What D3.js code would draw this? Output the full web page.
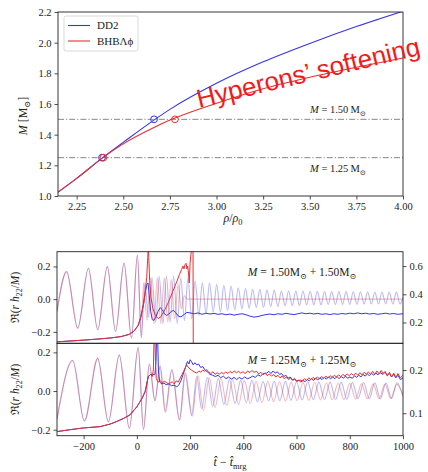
<!DOCTYPE html>
<html><head><meta charset="utf-8">
<script src="https://cdn.jsdelivr.net/npm/d3@7"></script>
<style>
body{margin:0;background:#fff}
svg{display:block}
text{font-family:"Liberation Serif","DejaVu Serif",serif;fill:#222}
</style>
</head><body>
<svg id="chart" width="428" height="472"></svg>
<script>
// ---------- Mass vs. central density ----------
const rho     = [2.15, 2.25, 2.39, 2.50, 2.67, 2.75, 3.00, 3.25, 3.50, 3.75, 4.00];
const massDD2 = [1.025, 1.115, 1.25, 1.35, 1.50, 1.565, 1.735, 1.875, 1.995, 2.105, 2.205];
const massBHB = [1.025, 1.115, 1.25, 1.34, 1.45, 1.495, 1.605, 1.70, 1.775, 1.84, 1.90];
const markDD2 = [[2.386, 1.25], [2.665, 1.50]];
const markBHB = [[2.393, 1.25], [2.777, 1.50]];
const refMasses = [1.50, 1.25];
const rhoTicks = [2.25, 2.50, 2.75, 3.00, 3.25, 3.50, 3.75, 4.00];
const massTicks = [1.0, 1.2, 1.4, 1.6, 1.8, 2.0, 2.2];

// ---------- Waveforms, 1.50 + 1.50 ----------
// strain extrema [t, Re(r h22/M)]
const hInsp150 = [[-300,-0.075],[-264,0.168],[-222,-0.177],[-182,0.189],[-147,-0.187],[-111,0.199],[-80,-0.197],[-48,0.22],[-20,-0.238],[2,0.27],[17,-0.236]];
const hDD2_150 = [[30,0.10],[44,-0.11],[57,0.13],[71,-0.14],[84,0.14],[98,-0.15],[111,0.14],[125,-0.14],[138,0.14],[152,-0.15],[165,0.13],[179,-0.13],[192,0.13],[206,-0.12],[219,0.11],[233,-0.10],[246,0.10],[260,-0.09],[273,0.10],[287,-0.08],[300,0.09],[314,-0.08],[327,0.085],[341,-0.07],[354,0.08],[368,-0.065],[381,0.07],[395,-0.06],[408,0.065],[422,-0.055],[435,0.06],[449,-0.05],[462,0.06],[476,-0.05],[489,0.055],[503,-0.045],[516,0.055],[530,-0.045],[543,0.05],[557,-0.04],[570,0.05],[584,-0.04],[597,0.05],[611,-0.04],[624,0.05],[638,-0.035],[651,0.048],[665,-0.035],[678,0.048],[692,-0.035],[705,0.047],[719,-0.033],[732,0.047],[746,-0.033],[759,0.046],[773,-0.032],[786,0.046],[800,-0.032],[813,0.045],[827,-0.032],[840,0.045],[854,-0.03],[867,0.045],[881,-0.03],[894,0.044],[908,-0.03],[921,0.044],[935,-0.03],[948,0.044],[962,-0.03],[975,0.043],[989,-0.03],[1000,0.01]];
const hBHB_150 = [[25,0.10],[38,-0.13],[51,0.13],[64,-0.15],[77,0.13],[90,-0.15],[103,0.13],[116,-0.14],[129,0.12],[142,-0.12],[155,0.09],[167,-0.06],[178,0.02],[190,0.0],[1000,0.0]];
// maximum density [t, value on right axis]
const dPre150 = [[-300,0.063],[-250,0.069],[-200,0.075],[-150,0.082],[-100,0.09],[-60,0.10],[-30,0.115],[-10,0.14],[5,0.18],[15,0.24],[25,0.33],[32,0.42]];
const dBHB_150 = [[37,0.52],[41,0.66],[43,0.75],[45,0.66],[48,0.50],[53,0.38],[60,0.30],[70,0.25],[80,0.228],[90,0.24],[105,0.29],[120,0.35],[135,0.42],[150,0.49],[160,0.54],[168,0.575],[173,0.60],[177,0.58],[181,0.61],[185,0.62],[188,0.58],[191,0.60],[194,0.55],[197,0.48],[200,0.62],[203,0.68],[207,0.75],[211,0.75],[212,0.0]];
const dDD2_150 = [[38,0.47],[42,0.48],[46,0.40],[52,0.28],[58,0.22],[64,0.215],[72,0.24],[80,0.28],[88,0.305],[96,0.29],[104,0.26],[112,0.25],[120,0.26],[130,0.28],[138,0.285],[146,0.27],[156,0.245],[166,0.24],[176,0.255],[188,0.272],[200,0.268],[215,0.262],[230,0.268],[245,0.258],[260,0.266],[275,0.26],[290,0.265],[305,0.258],[320,0.262],[335,0.255],[350,0.26],[365,0.252],[380,0.258],[395,0.262],[410,0.255],[425,0.245],[440,0.238],[455,0.242],[470,0.25],[485,0.256],[500,0.26],[515,0.255],[530,0.262],[545,0.258],[560,0.265],[575,0.26],[590,0.256],[605,0.262],[620,0.268],[635,0.262],[650,0.266],[665,0.26],[680,0.265],[695,0.258],[710,0.262],[725,0.256],[740,0.262],[755,0.258],[770,0.264],[785,0.26],[800,0.266],[815,0.262],[830,0.268],[845,0.262],[860,0.266],[875,0.26],[890,0.264],[905,0.258],[920,0.262],[935,0.266],[950,0.26],[965,0.264],[980,0.258],[1000,0.262]];

// ---------- Waveforms, 1.25 + 1.25 ----------
const hInsp125 = [[-300,-0.145],[-241,0.158],[-197,-0.155],[-147,0.169],[-107,-0.159],[-66,0.186],[-28,-0.193],[5,0.226],[25,-0.2]];
const hDD2_125 = [[47,0.14],[68,-0.05],[87,0.125],[106,-0.105],[131,0.11],[160,-0.15],[181,0.09],[206,-0.125],[225,0.075],[243,-0.09],[265,0.07],[285,-0.08],[306,0.065],[327,-0.07],[348,0.06],[369,-0.065],[390,0.055],[411,-0.06],[432,0.055],[453,-0.055],[474,0.05],[495,-0.05],[516,0.05],[537,-0.05],[558,0.05],[579,-0.048],[600,0.048],[621,-0.046],[642,0.048],[663,-0.045],[684,0.046],[705,-0.044],[726,0.046],[747,-0.043],[768,0.045],[789,-0.042],[810,0.045],[831,-0.04],[852,0.044],[873,-0.04],[894,0.043],[915,-0.04],[936,0.042],[957,-0.038],[978,0.042],[1000,-0.03]];
const hBHB_125 = [[47,0.14],[68,-0.05],[88,0.13],[108,-0.11],[132,0.11],[161,-0.15],[183,0.095],[208,-0.13],[229,0.08],[250,-0.10],[272,0.07],[294,-0.085],[316,0.065],[338,-0.075],[360,0.06],[382,-0.07],[404,0.055],[426,-0.065],[448,0.05],[470,-0.06],[492,0.05],[514,-0.055],[536,0.048],[558,-0.052],[580,0.046],[602,-0.05],[624,0.045],[646,-0.048],[668,0.044],[690,-0.046],[712,0.042],[734,-0.045],[756,0.04],[778,-0.044],[800,0.04],[822,-0.042],[844,0.038],[866,-0.04],[888,0.037],[910,-0.04],[932,0.036],[954,-0.038],[976,0.035],[1000,-0.02]];
const dPre125 = [[-300,0.0575],[-250,0.062],[-200,0.066],[-138,0.069],[-100,0.075],[-75,0.081],[-50,0.088],[-26,0.096],[0,0.115],[20,0.135],[31,0.15],[43,0.185],[52,0.19]];
const dBHB_125 = [[58,0.185],[62,0.20],[65,0.28],[67,0.30],[70,0.22],[73,0.18],[80,0.172],[88,0.176],[95,0.17],[103,0.174],[110,0.172],[118,0.168],[125,0.17],[133,0.173],[140,0.168],[148,0.175],[155,0.172],[162,0.18],[170,0.19],[178,0.2],[187,0.212],[195,0.205],[205,0.2],[215,0.196],[225,0.193],[233,0.198],[240,0.195],[248,0.2],[255,0.197],[262,0.201],[270,0.195],[278,0.192],[286,0.196],[294,0.19],[302,0.194],[310,0.19],[318,0.195],[326,0.191],[334,0.196],[342,0.192],[350,0.197],[358,0.193],[366,0.198],[374,0.194],[382,0.197],[390,0.193],[399,0.196],[408,0.192],[416,0.198],[424,0.194],[432,0.199],[440,0.195],[450,0.197],[458,0.191],[466,0.195],[474,0.189],[482,0.193],[490,0.187],[498,0.191],[506,0.186],[514,0.19],[522,0.184],[530,0.188],[538,0.182],[546,0.186],[554,0.18],[562,0.184],[570,0.178],[578,0.182],[586,0.176],[594,0.18],[602,0.174],[613,0.177],[622,0.175],[630,0.18],[638,0.176],[646,0.182],[654,0.178],[662,0.183],[670,0.179],[678,0.184],[686,0.18],[694,0.185],[702,0.181],[710,0.186],[718,0.182],[726,0.187],[734,0.183],[742,0.188],[750,0.184],[758,0.189],[766,0.185],[774,0.19],[782,0.186],[790,0.191],[798,0.187],[806,0.192],[814,0.188],[822,0.193],[830,0.188],[838,0.194],[846,0.189],[854,0.195],[862,0.19],[870,0.196],[878,0.19],[886,0.197],[894,0.19],[902,0.198],[910,0.191],[918,0.199],[925,0.192],[933,0.197],[941,0.186],[949,0.195],[957,0.184],[965,0.193],[973,0.183],[981,0.192],[990,0.182],[1000,0.188]];
const dDD2_125 = [[60,0.19],[68,0.19],[72,0.22],[75,0.30],[78,0.28],[81,0.20],[86,0.172],[94,0.168],[102,0.17],[110,0.166],[120,0.168],[130,0.164],[140,0.165],[150,0.161],[158,0.166],[166,0.176],[174,0.19],[182,0.205],[190,0.22],[196,0.214],[200,0.224],[206,0.219],[212,0.212],[218,0.217],[225,0.212],[232,0.214],[240,0.206],[248,0.208],[256,0.2],[265,0.196],[275,0.19],[285,0.188],[295,0.185],[305,0.188],[315,0.182],[325,0.186],[335,0.18],[345,0.184],[355,0.179],[365,0.183],[375,0.178],[385,0.183],[395,0.179],[405,0.184],[415,0.18],[425,0.182],[435,0.186],[445,0.183],[455,0.189],[465,0.186],[475,0.192],[488,0.193],[496,0.197],[504,0.192],[512,0.198],[520,0.193],[528,0.196],[536,0.19],[544,0.192],[552,0.185],[560,0.188],[568,0.181],[576,0.184],[584,0.177],[592,0.18],[600,0.174],[608,0.177],[616,0.172],[624,0.176],[632,0.173],[640,0.178],[648,0.175],[656,0.18],[664,0.176],[672,0.181],[680,0.177],[688,0.182],[696,0.178],[704,0.183],[712,0.179],[720,0.184],[728,0.18],[736,0.184],[744,0.18],[752,0.185],[760,0.18],[768,0.185],[776,0.181],[784,0.186],[792,0.181],[800,0.184],[810,0.181],[818,0.187],[826,0.183],[834,0.188],[842,0.184],[850,0.19],[858,0.186],[866,0.191],[874,0.187],[882,0.192],[890,0.188],[898,0.193],[906,0.189],[914,0.194],[925,0.19],[933,0.195],[941,0.188],[949,0.192],[957,0.184],[965,0.19],[973,0.182],[981,0.188],[990,0.178],[1000,0.182]];

const tTicks = [-200, 0, 200, 400, 600, 800, 1000];
const hTicks = [-0.2, 0.0, 0.2];
const rTicks150 = [0.2, 0.4, 0.6];
const rTicks125 = [0.1, 0.2];

// ---------- styling ----------
const C = {blue:"#3535e6", red:"#e63030", grey:"#7a7a7a", axis:"#222"};
const SERIF = '"Liberation Serif","DejaVu Serif",serif';
const svg = d3.select("#chart");
const defs = svg.append("defs");

function clip(id, x0, y0, x1, y1) {
  defs.append("clipPath").attr("id", id).append("rect")
    .attr("x", x0).attr("y", y0).attr("width", x1 - x0).attr("height", y1 - y0);
  return `url(#${id})`;
}
function styleAxis(sel, fs) {
  sel.attr("font-family", SERIF);
  sel.select(".domain").remove();
  sel.selectAll(".tick line").attr("stroke", C.axis).attr("stroke-width", 0.8);
  sel.selectAll(".tick text").attr("fill", C.axis).style("font-size", fs + "px").style("font-family", SERIF);
}
function frame(x0, y0, x1, y1) {
  svg.append("rect").attr("x", x0).attr("y", y0).attr("width", x1 - x0).attr("height", y1 - y0)
    .attr("fill", "none").attr("stroke", C.axis).attr("stroke-width", 0.9);
}
// text built from pieces: plain strings or {t, it, sub, after}
function rich(sel, parts, fs) {
  parts.forEach(p => {
    const s = typeof p === "string" ? {t: p} : p;
    const ts = sel.append("tspan").text(s.t);
    if (s.it) ts.style("font-style", "italic");
    if (s.sub) ts.attr("dy", fs * 0.28).style("font-size", (fs * 0.7) + "px");
    if (s.after) ts.attr("dy", -fs * 0.28);
  });
  return sel;
}

// ================= Top panel =================
const T = {x0: 58, x1: 403, y0: 12, y1: 196};
const xR = d3.scaleLinear().domain([2.15, 4.0]).range([T.x0, T.x1]);
const yM = d3.scaleLinear().domain([1.0, 2.2]).range([T.y1, T.y0]);
const clipTop = clip("clipTop", T.x0, T.y0, T.x1, T.y1);

svg.append("g").attr("transform", `translate(0,${T.y1})`)
  .call(d3.axisBottom(xR).tickValues(rhoTicks).tickFormat(d3.format(".2f")).tickSize(3.5).tickPadding(3))
  .call(g => styleAxis(g, 10.5));
svg.append("g").attr("transform", `translate(${T.x0},0)`)
  .call(d3.axisLeft(yM).tickValues(massTicks).tickFormat(d3.format(".1f")).tickSize(3.5).tickPadding(3))
  .call(g => styleAxis(g, 10.5));

const gTop = svg.append("g").attr("clip-path", clipTop);
refMasses.forEach(m => gTop.append("line")
  .attr("x1", T.x0).attr("x2", T.x1).attr("y1", yM(m)).attr("y2", yM(m))
  .attr("stroke", C.grey).attr("stroke-width", 0.9).attr("stroke-dasharray", "6,2,1.2,2"));

const lineTop = d3.line().x(d => xR(d[0])).y(d => yM(d[1])).curve(d3.curveMonotoneX);
gTop.append("path").datum(d3.zip(rho, massDD2)).attr("d", lineTop)
  .attr("fill", "none").attr("stroke", C.blue).attr("stroke-width", 1.1);
gTop.append("path").datum(d3.zip(rho, massBHB)).attr("d", lineTop)
  .attr("fill", "none").attr("stroke", C.red).attr("stroke-width", 1.1);
gTop.selectAll(".mD").data(markDD2).join("circle")
  .attr("cx", d => xR(d[0])).attr("cy", d => yM(d[1])).attr("r", 3.4)
  .attr("fill", "none").attr("stroke", C.blue).attr("stroke-width", 1);
gTop.selectAll(".mB").data(markBHB).join("circle")
  .attr("cx", d => xR(d[0])).attr("cy", d => yM(d[1])).attr("r", 3.4)
  .attr("fill", "none").attr("stroke", C.red).attr("stroke-width", 1);
frame(T.x0, T.y0, T.x1, T.y1);

// reference-mass labels
[[1.50, -6.5], [1.25, 14.5]].forEach(([m, dy]) => {
  rich(svg.append("text").attr("x", 310).attr("y", yM(m) + dy).style("font-size", "10.5px"),
    [{t: "M", it: true}, " = " + m.toFixed(2) + "\u2009M", {t: "\u2299", sub: true}], 10.5);
});

// legend
const lg = svg.append("g");
lg.append("rect").attr("x", 64).attr("y", 16).attr("width", 74).attr("height", 35).attr("rx", 2)
  .attr("fill", "#fff").attr("stroke", "#d0d0d0").attr("stroke-width", 0.8);
[["DD2", C.blue, 25.5], ["BHB\u039B\u03D5", C.red, 41]].forEach(([lab, col, y]) => {
  lg.append("line").attr("x1", 68).attr("x2", 90).attr("y1", y).attr("y2", y)
    .attr("stroke", col).attr("stroke-width", 1.1);
  lg.append("text").attr("x", 97).attr("y", y + 3.8).style("font-size", "11px").text(lab);
});

// axis titles
rich(svg.append("text").attr("transform", `translate(27,${(T.y0 + T.y1) / 2 + 12}) rotate(-90)`)
  .attr("text-anchor", "middle").style("font-size", "12px"),
  [{t: "M", it: true}, " [M", {t: "\u2299", sub: true}, {t: "]", after: true}], 12);
rich(svg.append("text").attr("x", 233).attr("y", 222).attr("text-anchor", "middle").style("font-size", "12px"),
  [{t: "\u03C1", it: true}, "/", {t: "\u03C1", it: true}, {t: "0", sub: true}], 12);

// headline annotation
svg.append("text").attr("transform", "translate(199,108) rotate(-13.5)")
  .style("font-family", '"Liberation Sans",Arial,sans-serif').style("font-size", "26px")
  .style("fill", "#f01c1c").text("Hyperons\u2019 softening");

// ================= Waveform panels =================
const xT = d3.scaleLinear().domain([-300, 1000]).range([57, 403]);
const panels = [
  {y0: 251.7, y1: 343.3, hDom: [-0.27, 0.29], rDom: [0.0525, 0.702], rTicks: rTicks150,
   hDD2: hInsp150.concat(hDD2_150), hBHB: hInsp150.concat(hBHB_150),
   dDD2: dPre150.concat(dDD2_150), dBHB: dPre150.concat(dBHB_150),
   label: "1.50", labY: 276},
  {y0: 343.3, y1: 435.7, hDom: [-0.231, 0.247], rDom: [0.048, 0.262], rTicks: rTicks125,
   hDD2: hInsp125.concat(hDD2_125), hBHB: hInsp125.concat(hBHB_125),
   dDD2: dPre125.concat(dDD2_125), dBHB: dPre125.concat(dBHB_125),
   label: "1.25", labY: 364}
];

panels.forEach((P, i) => {
  const yH = d3.scaleLinear().domain(P.hDom).range([P.y1, P.y0]);
  const yD = d3.scaleLinear().domain(P.rDom).range([P.y1, P.y0]);
  const cp = clip("clipW" + i, 57, P.y0, 403, P.y1);
  const g = svg.append("g").attr("clip-path", cp);

  const lh = d3.line().x(d => xT(d[0])).y(d => yH(d[1])).curve(d3.curveMonotoneX);
  const ld = d3.line().x(d => xT(d[0])).y(d => yD(d[1]));

  g.append("path").datum(P.hDD2).attr("d", lh).attr("fill", "none")
    .attr("stroke", C.blue).attr("stroke-opacity", 0.35).attr("stroke-width", 1.1);
  g.append("path").datum(P.hBHB).attr("d", lh).attr("fill", "none")
    .attr("stroke", C.red).attr("stroke-opacity", 0.35).attr("stroke-width", 1.1);
  g.append("path").datum(P.dDD2).attr("d", ld).attr("fill", "none")
    .attr("stroke", C.blue).attr("stroke-width", 1);
  g.append("path").datum(P.dBHB).attr("d", ld).attr("fill", "none")
    .attr("stroke", C.red).attr("stroke-width", 1);

  svg.append("g").attr("transform", "translate(57,0)")
    .call(d3.axisLeft(yH).tickValues(hTicks).tickFormat(d3.format(".1f")).tickSize(3.5).tickPadding(3))
    .call(a => styleAxis(a, 10.5));
  svg.append("g").attr("transform", "translate(403,0)")
    .call(d3.axisRight(yD).tickValues(P.rTicks).tickFormat(d3.format(".1f")).tickSize(3.5).tickPadding(3))
    .call(a => styleAxis(a, 10.5));
  frame(57, P.y0, 403, P.y1);

  rich(svg.append("text").attr("x", 302).attr("y", P.labY).attr("text-anchor", "middle").style("font-size", "11.5px"),
    [{t: "M", it: true}, " = " + P.label + "M", {t: "\u2299", sub: true}, {t: " + " + P.label + "M", after: true}, {t: "\u2299", sub: true}], 11.5);

  rich(svg.append("text").attr("transform", `translate(19,${(P.y0 + P.y1) / 2}) rotate(-90)`)
    .attr("text-anchor", "middle").style("font-size", "11.5px"),
    ["\u211C(", {t: "r", it: true}, " ", {t: "h", it: true}, {t: "22", sub: true}, {t: "/", after: true}, {t: "M", it: true}, ")"], 11.5);
});

svg.append("g").attr("transform", "translate(0,435.7)")
  .call(d3.axisBottom(xT).tickValues(tTicks).tickFormat(d3.format("d")).tickSize(3.5).tickPadding(3))
  .call(a => styleAxis(a, 10.5));
rich(svg.append("text").attr("x", 230).attr("y", 466).attr("text-anchor", "middle").style("font-size", "12px"),
  [{t: "t\u0302", it: true}, " \u2212 ", {t: "t\u0302", it: true}, {t: "mrg", sub: true}], 12);
</script>
</body></html>
